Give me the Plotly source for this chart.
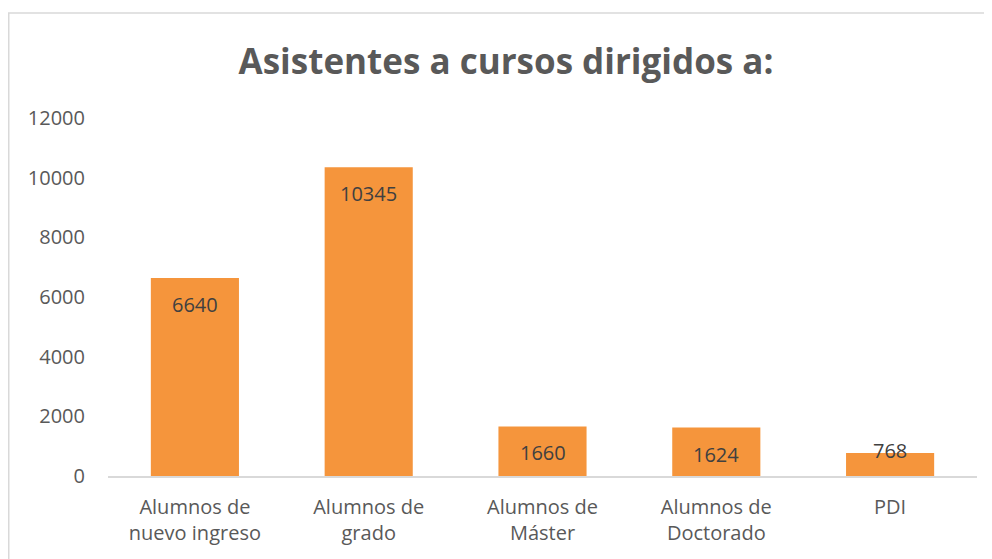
import plotly.graph_objects as go

categories = ["Alumnos de<br>nuevo ingreso", "Alumnos de<br>grado", "Alumnos de<br>Máster",
              "Alumnos de<br>Doctorado", "PDI"]
values = [6640, 10345, 1660, 1624, 768]
y_ticks = [0, 2000, 4000, 6000, 8000, 10000, 12000]
y_tick_labels = ["0", "2000", "4000", "6000", "8000", "10000", "12000"]
title_text = "Asistentes a cursos dirigidos a:"

FONT = "Open Sans"
GRAY = "#595959"

# page body has an 8px offset; layout compensates
L, R, T, B = 100, 23, 110, 91
PW = 992 - L - R
PH = 559 - T - B

fig = go.Figure()
fig.add_trace(go.Bar(
    x=categories, y=values,
    marker=dict(color="#F5953C", line=dict(width=0)),
    width=0.507,
    hoverinfo="x+y",
))

for c, v in zip(categories, values):
    small = v < 1000
    fig.add_annotation(
        x=c, y=v, text=str(v), showarrow=False,
        yanchor="middle" if small else "top",
        yshift=3 if small else -11,
        font=dict(family=FONT, size=20, color="#404040"),
    )

fig.update_layout(
    width=992, height=559,
    paper_bgcolor="white", plot_bgcolor="white",
    margin=dict(l=L, r=R, t=T, b=B),
    showlegend=False,
    title=dict(text="<b>" + title_text + "</b>", x=498 / 992, xanchor="center", xref="container",
               y=1 - 54 / 559, yanchor="middle", yref="container",
               font=dict(family=FONT, size=35, color=GRAY)),
    font=dict(family=FONT, size=20, color=GRAY),
    shapes=[dict(type="rect", xref="paper", yref="paper",
                 x0=(0.75 - L) / PW, x1=1.2, y0=-0.5,
                 y1=1 + (T - 5) / PH,
                 line=dict(color="#D9D9D9", width=1.5), fillcolor="rgba(0,0,0,0)",
                 layer="below")],
)
fig.update_xaxes(showline=True, linecolor="#D9D9D9", linewidth=2, showgrid=False,
                 ticks="", ticklabelstandoff=12, tickfont=dict(family=FONT, size=20, color=GRAY))
fig.update_yaxes(range=[0, 12000], tickvals=y_ticks, ticktext=y_tick_labels,
                 showgrid=False, zeroline=False,
                 showline=False, ticks="", ticklabelstandoff=22,
                 tickfont=dict(family=FONT, size=20, color=GRAY))

fig.write_html("out.html")
